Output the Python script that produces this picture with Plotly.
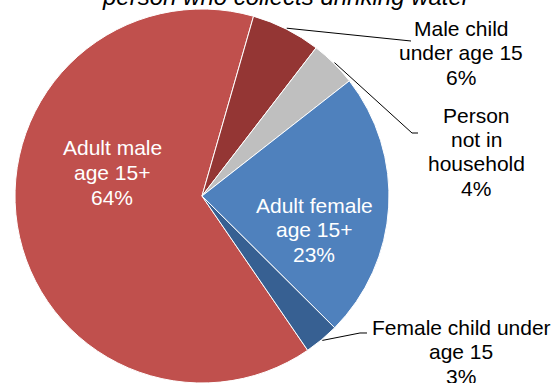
import math
import plotly.graph_objects as go

# ---- data ----
categories = ["Adult male age 15+", "Male child under age 15", "Person not in household",
              "Adult female age 15+", "Female child under age 15"]
values = [64, 6, 4, 23, 3]
label_lines = [["Adult male", "age 15+"], ["Male child", "under age 15"],
               ["Person", "not in", "household"], ["Adult female", "age 15+"],
               ["Female child under", "age 15"]]
colors = ["#C0504D", "#943634", "#BFBFBF", "#4F81BD", "#376092"]
title_text = "person who collects drinking water"

# ---- layout geometry (pixels) ----
W, H = 553, 383
CX, CY, R = 202, 196, 187
ROT = 145.6
LINE_H = 24.5
FONT = "Liberation Sans, Arial, sans-serif"

# label centers (x, y of first line) and text colour, leader line anchor points
label_pos = [(112, 148), (461, 28), (476, 115), (314, 205), (461, 327)]
label_col = ["white", "black", "black", "white", "black"]
leader = [None, [(411, 41)], [(412, 133), (418, 133)], None, [(360, 333), (367, 333)]]


def px(x):
    return x / W


def py(y):
    return 1 - y / H


fig = go.Figure(go.Pie(
    labels=categories, values=values, sort=False, direction="clockwise",
    rotation=ROT, textinfo="none", hoverinfo="label+percent",
    marker=dict(colors=colors, line=dict(color="white", width=1)),
    domain=dict(x=[px(CX - R), px(CX + R)], y=[max(0, py(CY + R)), py(CY - R)]),
    showlegend=False,
))

annotations = []
shapes = []
total = sum(values)
cum = 0.0
for i, v in enumerate(values):
    mid = ROT + (cum + v / 2) / total * 360
    cum += v
    lines = label_lines[i] + [f"{round(v / total * 100)}%"]
    lx, ly = label_pos[i]
    for k, t in enumerate(lines):
        annotations.append(dict(
            x=px(lx), y=py(ly + k * LINE_H), xref="paper", yref="paper",
            text=t, showarrow=False, xanchor="center", yanchor="middle",
            font=dict(family=FONT, size=21, color=label_col[i])))
    if leader[i]:
        a = math.radians(mid)
        ex, ey = CX + (R + 1) * math.sin(a), CY - (R + 1) * math.cos(a)
        pts = [(ex, ey)] + leader[i]
        path = "M " + " L ".join(f"{px(x):.5f},{py(y):.5f}" for x, y in pts)
        shapes.append(dict(type="path", xref="paper", yref="paper", path=path,
                           line=dict(color="black", width=1)))

annotations.append(dict(
    x=px(286), y=py(12), xref="paper", yref="paper", text=title_text,
    showarrow=False, xanchor="center", yanchor="bottom",
    font=dict(family=FONT, size=24, color="black", style="italic")))

fig.update_layout(
    width=W, height=H, margin=dict(l=0, r=0, t=0, b=0),
    paper_bgcolor="white", plot_bgcolor="white",
    annotations=annotations, shapes=shapes,
)

fig.write_html("out.html", config={"displayModeBar": False},
               post_script="document.body.style.margin='0';document.body.style.overflow='hidden';")
